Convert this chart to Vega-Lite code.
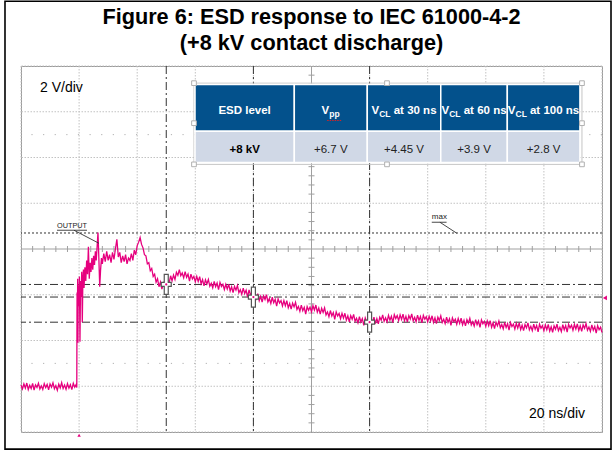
{
"$schema":"https://vega.github.io/schema/vega-lite/v6.json",
"width":581,"height":366,
"autosize":{"type":"none"},
"padding":{"left":21,"top":66,"right":13,"bottom":18},
"background":"white",
"title":{"text":["Figure 6: ESD response to IEC 61000-4-2","(+8 kV contact discharge)"],"font":"Liberation Sans","fontSize":21.7,"fontWeight":"bold","color":"#000000","anchor":"middle","lineHeight":26.5,"offset":-54.5},
"config":{"view":{"stroke":"#9a9a9a","strokeWidth":1},"text":{"font":"Liberation Sans"}},
"layer":[
{"data":{"values":[{"t":-20},{"t":0},{"t":20},{"t":40},{"t":60},{"t":100},{"t":120},{"t":140},{"t":160},{"t":180}]},
 "mark":{"type":"rule","color":"#c2c2c2","strokeDash":[1.5,1.5],"strokeWidth":1},
 "encoding":{"x":{"field":"t","type":"quantitative","scale":{"domain":[-20,180],"nice":false,"zero":false},"axis":null}}},
{"data":{"values":[{"v":-2},{"v":0},{"v":2},{"v":4},{"v":8},{"v":10},{"v":12},{"v":14}]},
 "mark":{"type":"rule","color":"#c2c2c2","strokeDash":[1.5,1.5],"strokeWidth":1},
 "encoding":{"y":{"field":"v","type":"quantitative","scale":{"domain":[-2,14],"nice":false,"zero":false},"axis":null}}},
{"data":{"values":[{"v":1},{"v":11}]},
 "mark":{"type":"rule","color":"#b0b0b0","strokeDash":[1.2,10.42],"strokeWidth":1},
 "encoding":{"y":{"field":"v","type":"quantitative","scale":{"domain":[-2,14],"nice":false,"zero":false},"axis":null}}},
{"data":{"values":[{"t":80}]},
 "mark":{"type":"rule","color":"#a0a0a0","strokeWidth":1},
 "encoding":{"x":{"field":"t","type":"quantitative","scale":{"domain":[-20,180],"nice":false,"zero":false},"axis":null}}},
{"data":{"values":[{"v":6}]},
 "mark":{"type":"rule","color":"#a0a0a0","strokeWidth":1},
 "encoding":{"y":{"field":"v","type":"quantitative","scale":{"domain":[-2,14],"nice":false,"zero":false},"axis":null}}},
{"data":{"values":[{"t":-16},{"t":-12},{"t":-8},{"t":-4},{"t":4},{"t":8},{"t":12},{"t":16},{"t":24},{"t":28},{"t":32},{"t":36},{"t":44},{"t":48},{"t":52},{"t":56},{"t":64},{"t":68},{"t":72},{"t":76},{"t":84},{"t":88},{"t":92},{"t":96},{"t":104},{"t":108},{"t":112},{"t":116},{"t":124},{"t":128},{"t":132},{"t":136},{"t":144},{"t":148},{"t":152},{"t":156},{"t":164},{"t":168},{"t":172},{"t":176}]},
 "mark":{"type":"tick","orient":"vertical","size":6,"thickness":1,"color":"#a0a0a0","opacity":1},
 "encoding":{"x":{"field":"t","type":"quantitative","scale":{"domain":[-20,180],"nice":false,"zero":false},"axis":null},
  "y":{"datum":6,"type":"quantitative","scale":{"domain":[-2,14],"nice":false,"zero":false},"axis":null}}},
{"data":{"values":[{"v":-1.6},{"v":-1.2},{"v":-0.8},{"v":-0.4},{"v":0.4},{"v":0.8},{"v":1.2},{"v":1.6},{"v":2.4},{"v":2.8},{"v":3.2},{"v":3.6},{"v":4.4},{"v":4.8},{"v":5.2},{"v":5.6},{"v":6.4},{"v":6.8},{"v":7.2},{"v":7.6},{"v":8.4},{"v":8.8},{"v":9.2},{"v":9.6},{"v":10.4},{"v":10.8},{"v":11.2},{"v":11.6},{"v":12.4},{"v":12.8},{"v":13.2},{"v":13.6}]},
 "mark":{"type":"tick","orient":"horizontal","size":6,"thickness":1,"color":"#a0a0a0","opacity":1},
 "encoding":{"y":{"field":"v","type":"quantitative","scale":{"domain":[-2,14],"nice":false,"zero":false},"axis":null},
  "x":{"datum":80,"type":"quantitative","scale":{"domain":[-20,180],"nice":false,"zero":false},"axis":null}}},
{"data":{"values":[{"v":6.7}]},
 "mark":{"type":"rule","color":"#333333","strokeDash":[2,2],"strokeWidth":1},
 "encoding":{"y":{"field":"v","type":"quantitative","scale":{"domain":[-2,14],"nice":false,"zero":false},"axis":null}}},
{"data":{"values":[{"t":30},{"t":60},{"t":100}]},
 "mark":{"type":"rule","color":"#333333","strokeDash":[8,3,2,3],"strokeWidth":1},
 "encoding":{"x":{"field":"t","type":"quantitative","scale":{"domain":[-20,180],"nice":false,"zero":false},"axis":null}}},
{"data":{"values":[{"v":4.45},{"v":3.9},{"v":2.8}]},
 "mark":{"type":"rule","color":"#333333","strokeDash":[8,3,2,3],"strokeWidth":1},
 "encoding":{"y":{"field":"v","type":"quantitative","scale":{"domain":[-2,14],"nice":false,"zero":false},"axis":null}}},
{"data":{"values":[
{"t":-20,"v":0.05},{"t":-19.5,"v":-0.12},{"t":-19,"v":0.1},{"t":-18.5,"v":-0.08},{"t":-18,"v":0.14},{"t":-17.5,"v":-0.15},{"t":-17,"v":0.04},{"t":-16.5,"v":-0.1},{"t":-16,"v":0.12},{"t":-15.5,"v":-0.17},{"t":-15,"v":0.06},{"t":-14.5,"v":-0.05},{"t":-14,"v":0.13},{"t":-13.5,"v":-0.12},{"t":-13,"v":0.02},{"t":-12.5,"v":-0.14},{"t":-12,"v":0.11},{"t":-11.5,"v":-0.06},{"t":-11,"v":0.08},{"t":-10.5,"v":-0.16},{"t":-10,"v":0.1},{"t":-9.5,"v":-0.04},{"t":-9,"v":0.15},{"t":-8.5,"v":-0.11},{"t":-8,"v":0.03},{"t":-7.5,"v":-0.18},{"t":-7,"v":0.09},{"t":-6.5,"v":-0.07},{"t":-6,"v":0.16},{"t":-5.5,"v":-0.1},{"t":-5,"v":0.05},{"t":-4.5,"v":-0.13},{"t":-4,"v":0.12},{"t":-3.5,"v":-0.08},{"t":-3,"v":0.07},{"t":-2.5,"v":-0.15},{"t":-2,"v":0.13},{"t":-1.5,"v":-0.04},{"t":-1,"v":0.08},{"t":-0.8,"v":-0.06},
{"t":-0.7,"v":4.1},{"t":-0.6,"v":2.2},{"t":-0.5,"v":4.7},{"t":-0.4,"v":1.9},{"t":-0.3,"v":4.4},{"t":-0.1,"v":3.5},{"t":0.1,"v":4.8},{"t":0.3,"v":1.95},{"t":0.5,"v":4.6},{"t":0.7,"v":3.9},{"t":0.9,"v":5.0},{"t":1.1,"v":2.8},{"t":1.3,"v":4.7},{"t":1.5,"v":5.1},{"t":1.7,"v":4.3},{"t":2.0,"v":5.2},{"t":2.3,"v":4.6},{"t":2.6,"v":5.5},{"t":2.9,"v":4.9},{"t":3.2,"v":6.1},{"t":3.5,"v":4.7},{"t":3.8,"v":5.4},{"t":4.1,"v":5.0},{"t":4.4,"v":5.6},{"t":4.7,"v":5.1},{"t":5.0,"v":5.7},{"t":5.3,"v":5.3},{"t":5.6,"v":5.9},{"t":5.9,"v":5.5},{"t":6.2,"v":6.1},{"t":6.5,"v":6.72},{"t":6.8,"v":5.6},{"t":7.1,"v":4.35},{"t":7.4,"v":5.1},{"t":7.7,"v":5.6},{"t":8.0,"v":5.35},{"t":8.5,"v":5.8},{"t":9.0,"v":5.45},{"t":9.5,"v":5.9},{"t":10,"v":5.5},{"t":10.5,"v":5.75},{"t":11,"v":5.4},{"t":11.5,"v":5.85},{"t":12,"v":5.55},{"t":12.5,"v":6.0},{"t":13,"v":6.42},{"t":13.5,"v":5.65},{"t":14,"v":5.85},{"t":14.5,"v":5.4},{"t":15,"v":5.7},{"t":15.5,"v":5.45},{"t":16,"v":5.75},{"t":16.5,"v":5.35},{"t":17,"v":5.6},{"t":17.5,"v":5.5},{"t":18,"v":5.8},{"t":18.5,"v":5.5},{"t":19,"v":5.95},{"t":19.5,"v":5.75},{"t":20,"v":6.15},{"t":20.5,"v":6.3},{"t":21,"v":6.5},{"t":21.5,"v":6.2},{"t":22,"v":6.05},{"t":22.5,"v":5.75},{"t":23,"v":5.7},{"t":23.5,"v":5.35},{"t":24,"v":5.4},{"t":24.5,"v":5.05},{"t":25,"v":5.15},{"t":25.5,"v":4.8},{"t":26,"v":4.9},{"t":26.5,"v":4.55},{"t":27,"v":4.7},{"t":27.5,"v":4.35},{"t":28,"v":4.55},{"t":28.5,"v":4.25},{"t":29,"v":4.5},{"t":29.5,"v":4.3},{"t":30,"v":4.55},
{"t":30.5,"v":4.64},{"t":31,"v":4.52},{"t":31.5,"v":4.83},{"t":32,"v":4.61},{"t":32.5,"v":4.86},{"t":33,"v":4.67},{"t":33.5,"v":4.98},{"t":34,"v":4.85},{"t":34.5,"v":5.1},{"t":35,"v":4.83},{"t":35.5,"v":4.95},{"t":36,"v":4.74},{"t":36.5,"v":5.01},{"t":37,"v":4.76},{"t":37.5,"v":4.9},{"t":38,"v":4.6},{"t":38.5,"v":4.9},{"t":39,"v":4.69},{"t":39.5,"v":4.8},{"t":40,"v":4.57},
{"t":40.5,"v":4.8},{"t":41,"v":4.58},{"t":41.5,"v":4.79},{"t":42,"v":4.48},{"t":42.5,"v":4.66},{"t":43,"v":4.39},{"t":43.5,"v":4.65},{"t":44,"v":4.47},{"t":44.5,"v":4.67},{"t":45,"v":4.37},{"t":45.5,"v":4.5},{"t":46,"v":4.3},{"t":46.5,"v":4.58},{"t":47,"v":4.35},{"t":47.5,"v":4.51},{"t":48,"v":4.22},{"t":48.5,"v":4.54},{"t":49,"v":4.36},{"t":49.5,"v":4.46},{"t":50,"v":4.23},
{"t":50.5,"v":4.46},{"t":51,"v":4.25},{"t":51.5,"v":4.46},{"t":52,"v":4.16},{"t":52.5,"v":4.35},{"t":53,"v":4.09},{"t":53.5,"v":4.36},{"t":54,"v":4.2},{"t":54.5,"v":4.4},{"t":55,"v":4.09},{"t":55.5,"v":4.22},{"t":56,"v":4.02},{"t":56.5,"v":4.29},{"t":57,"v":4.05},{"t":57.5,"v":4.2},{"t":58,"v":3.9},{"t":58.5,"v":4.21},{"t":59,"v":4.0},{"t":59.5,"v":4.08},{"t":60,"v":3.81},
{"t":60.5,"v":4.05},{"t":61,"v":3.84},{"t":61.5,"v":4.05},{"t":62,"v":3.74},{"t":62.5,"v":3.93},{"t":63,"v":3.68},{"t":63.5,"v":3.95},{"t":64,"v":3.79},{"t":64.5,"v":4.0},{"t":65,"v":3.69},{"t":65.5,"v":3.83},{"t":66,"v":3.62},{"t":66.5,"v":3.89},{"t":67,"v":3.65},{"t":67.5,"v":3.8},{"t":68,"v":3.5},{"t":68.5,"v":3.82},{"t":69,"v":3.64},{"t":69.5,"v":3.74},{"t":70,"v":3.51},
{"t":70.5,"v":3.74},{"t":71,"v":3.52},{"t":71.5,"v":3.74},{"t":72,"v":3.43},{"t":72.5,"v":3.62},{"t":73,"v":3.37},{"t":73.5,"v":3.63},{"t":74,"v":3.47},{"t":74.5,"v":3.67},{"t":75,"v":3.36},{"t":75.5,"v":3.49},{"t":76,"v":3.28},{"t":76.5,"v":3.55},{"t":77,"v":3.3},{"t":77.5,"v":3.45},{"t":78,"v":3.15},{"t":78.5,"v":3.48},{"t":79,"v":3.32},{"t":79.5,"v":3.46},{"t":80,"v":3.25},
{"t":80.5,"v":3.52},{"t":81,"v":3.33},{"t":81.5,"v":3.55},{"t":82,"v":3.24},{"t":82.5,"v":3.42},{"t":83,"v":3.15},{"t":83.5,"v":3.41},{"t":84,"v":3.23},{"t":84.5,"v":3.43},{"t":85,"v":3.12},{"t":85.5,"v":3.25},{"t":86,"v":3.04},{"t":86.5,"v":3.31},{"t":87,"v":3.07},{"t":87.5,"v":3.22},{"t":88,"v":2.92},{"t":88.5,"v":3.25},{"t":89,"v":3.07},{"t":89.5,"v":3.18},{"t":90,"v":2.95},
{"t":90.5,"v":3.19},{"t":91,"v":2.98},{"t":91.5,"v":3.19},{"t":92,"v":2.89},{"t":92.5,"v":3.08},{"t":93,"v":2.82},{"t":93.5,"v":3.09},{"t":94,"v":2.93},{"t":94.5,"v":3.14},{"t":95,"v":2.84},{"t":95.5,"v":2.97},{"t":96,"v":2.77},{"t":96.5,"v":3.04},{"t":97,"v":2.81},{"t":97.5,"v":2.96},{"t":98,"v":2.66},{"t":98.5,"v":2.99},{"t":99,"v":2.81},{"t":99.5,"v":2.92},{"t":100,"v":2.69},
{"t":100.5,"v":2.96},{"t":101,"v":2.77},{"t":101.5,"v":3.02},{"t":102,"v":2.74},{"t":102.5,"v":2.96},{"t":103,"v":2.73},{"t":103.5,"v":3.02},{"t":104,"v":2.89},{"t":104.5,"v":3.12},{"t":105,"v":2.84},{"t":105.5,"v":2.99},{"t":106,"v":2.81},{"t":106.5,"v":3.1},{"t":107,"v":2.89},{"t":107.5,"v":3.06},{"t":108,"v":2.78},{"t":108.5,"v":3.13},{"t":109,"v":2.96},{"t":109.5,"v":3.09},{"t":110,"v":2.87},
{"t":110.5,"v":3.12},{"t":111,"v":2.92},{"t":111.5,"v":3.15},{"t":112,"v":2.86},{"t":112.5,"v":3.06},{"t":113,"v":2.81},{"t":113.5,"v":3.09},{"t":114,"v":2.94},{"t":114.5,"v":3.16},{"t":115,"v":2.86},{"t":115.5,"v":3.01},{"t":116,"v":2.82},{"t":116.5,"v":3.11},{"t":117,"v":2.88},{"t":117.5,"v":3.05},{"t":118,"v":2.77},{"t":118.5,"v":3.1},{"t":119,"v":2.93},{"t":119.5,"v":3.04},{"t":120,"v":2.82},
{"t":120.5,"v":3.06},{"t":121,"v":2.86},{"t":121.5,"v":3.08},{"t":122,"v":2.79},{"t":122.5,"v":2.99},{"t":123,"v":2.74},{"t":123.5,"v":3.02},{"t":124,"v":2.87},{"t":124.5,"v":3.08},{"t":125,"v":2.79},{"t":125.5,"v":2.93},{"t":126,"v":2.74},{"t":126.5,"v":3.02},{"t":127,"v":2.79},{"t":127.5,"v":2.95},{"t":128,"v":2.66},{"t":128.5,"v":2.99},{"t":129,"v":2.82},{"t":129.5,"v":2.93},{"t":130,"v":2.71},
{"t":130.5,"v":2.96},{"t":131,"v":2.75},{"t":131.5,"v":2.98},{"t":132,"v":2.69},{"t":132.5,"v":2.88},{"t":133,"v":2.64},{"t":133.5,"v":2.91},{"t":134,"v":2.76},{"t":134.5,"v":2.97},{"t":135,"v":2.68},{"t":135.5,"v":2.82},{"t":136,"v":2.63},{"t":136.5,"v":2.91},{"t":137,"v":2.69},{"t":137.5,"v":2.85},{"t":138,"v":2.57},{"t":138.5,"v":2.9},{"t":139,"v":2.73},{"t":139.5,"v":2.84},{"t":140,"v":2.62},
{"t":140.5,"v":2.86},{"t":141,"v":2.65},{"t":141.5,"v":2.87},{"t":142,"v":2.58},{"t":142.5,"v":2.77},{"t":143,"v":2.52},{"t":143.5,"v":2.8},{"t":144,"v":2.64},{"t":144.5,"v":2.85},{"t":145,"v":2.56},{"t":145.5,"v":2.7},{"t":146,"v":2.51},{"t":146.5,"v":2.79},{"t":147,"v":2.57},{"t":147.5,"v":2.73},{"t":148,"v":2.45},{"t":148.5,"v":2.78},{"t":149,"v":2.61},{"t":149.5,"v":2.72},{"t":150,"v":2.5},
{"t":150.5,"v":2.75},{"t":151,"v":2.54},{"t":151.5,"v":2.77},{"t":152,"v":2.48},{"t":152.5,"v":2.67},{"t":153,"v":2.43},{"t":153.5,"v":2.7},{"t":154,"v":2.55},{"t":154.5,"v":2.77},{"t":155,"v":2.47},{"t":155.5,"v":2.62},{"t":156,"v":2.43},{"t":156.5,"v":2.71},{"t":157,"v":2.49},{"t":157.5,"v":2.66},{"t":158,"v":2.38},{"t":158.5,"v":2.71},{"t":159,"v":2.54},{"t":159.5,"v":2.65},{"t":160,"v":2.43},
{"t":160.5,"v":2.68},{"t":161,"v":2.47},{"t":161.5,"v":2.7},{"t":162,"v":2.41},{"t":162.5,"v":2.6},{"t":163,"v":2.36},{"t":163.5,"v":2.64},{"t":164,"v":2.49},{"t":164.5,"v":2.71},{"t":165,"v":2.43},{"t":165.5,"v":2.58},{"t":166,"v":2.39},{"t":166.5,"v":2.69},{"t":167,"v":2.47},{"t":167.5,"v":2.65},{"t":168,"v":2.37},{"t":168.5,"v":2.71},{"t":169,"v":2.55},{"t":169.5,"v":2.67},{"t":170,"v":2.45},
{"t":170.5,"v":2.7},{"t":171,"v":2.5},{"t":171.5,"v":2.73},{"t":172,"v":2.44},{"t":172.5,"v":2.64},{"t":173,"v":2.4},{"t":173.5,"v":2.68},{"t":174,"v":2.53},{"t":174.5,"v":2.74},{"t":175,"v":2.45},{"t":175.5,"v":2.59},{"t":176,"v":2.4},{"t":176.5,"v":2.68},{"t":177,"v":2.45},{"t":177.5,"v":2.61},{"t":178,"v":2.32},{"t":178.5,"v":2.65},{"t":179,"v":2.47},{"t":179.5,"v":2.58},{"t":180,"v":2.35}
]},
 "mark":{"type":"line","color":"#e6007e","strokeWidth":1.3},
 "encoding":{"x":{"field":"t","type":"quantitative","scale":{"domain":[-20,180],"nice":false,"zero":false},"axis":null},
  "y":{"field":"v","type":"quantitative","scale":{"domain":[-2,14],"nice":false,"zero":false},"axis":null}}},
{"data":{"values":[{"t":30,"v":4.45},{"t":60,"v":3.9},{"t":100,"v":2.8}]},
 "mark":{"type":"point","shape":"M-0.2,-1L0.2,-1L0.2,-0.2L0.5,-0.2L0.5,0.2L0.2,0.2L0.2,1L-0.2,1L-0.2,0.2L-0.5,0.2L-0.5,-0.2L-0.2,-0.2Z","size":400,"filled":true,"fill":"#ffffff","stroke":"#555555","strokeWidth":1.2,"opacity":1},
 "encoding":{"x":{"field":"t","type":"quantitative","scale":{"domain":[-20,180],"nice":false,"zero":false},"axis":null},
  "y":{"field":"v","type":"quantitative","scale":{"domain":[-2,14],"nice":false,"zero":false},"axis":null}}},
{"data":{"values":[{"t":30,"v":4.45},{"t":60,"v":3.9},{"t":100,"v":2.8}]},
 "mark":{"type":"point","shape":"circle","size":5,"filled":true,"color":"#e6007e","opacity":1},
 "encoding":{"x":{"field":"t","type":"quantitative","scale":{"domain":[-20,180],"nice":false,"zero":false},"axis":null},
  "y":{"field":"v","type":"quantitative","scale":{"domain":[-2,14],"nice":false,"zero":false},"axis":null}}},
{"data":{"values":[{"t":39.55,"t2":173.1,"v":9.7,"v2":13.25}]},
 "mark":{"type":"rect","fill":"transparent","stroke":"#c4c4c4","strokeWidth":1},
 "encoding":{"x":{"field":"t","type":"quantitative","scale":{"domain":[-20,180],"nice":false,"zero":false},"axis":null},"x2":{"field":"t2"},
  "y":{"field":"v","type":"quantitative","scale":{"domain":[-2,14],"nice":false,"zero":false},"axis":null},"y2":{"field":"v2"}}},
{"data":{"values":[{"t":39.9,"t2":74.08,"v":11.15,"v2":13.19},{"t":74.08,"t2":99.2,"v":11.15,"v2":13.19},{"t":99.2,"t2":124.5,"v":11.15,"v2":13.19},{"t":124.5,"t2":147.4,"v":11.15,"v2":13.19},{"t":147.4,"t2":172.4,"v":11.15,"v2":13.19}]},
 "mark":{"type":"rect","fill":"#03518c","stroke":"#ffffff","strokeWidth":1.5},
 "encoding":{"x":{"field":"t","type":"quantitative","scale":{"domain":[-20,180],"nice":false,"zero":false},"axis":null},"x2":{"field":"t2"},
  "y":{"field":"v","type":"quantitative","scale":{"domain":[-2,14],"nice":false,"zero":false},"axis":null},"y2":{"field":"v2"}}},
{"data":{"values":[{"t":39.9,"t2":74.08,"v":9.78,"v2":11.15},{"t":74.08,"t2":99.2,"v":9.78,"v2":11.15},{"t":99.2,"t2":124.5,"v":9.78,"v2":11.15},{"t":124.5,"t2":147.4,"v":9.78,"v2":11.15},{"t":147.4,"t2":172.4,"v":9.78,"v2":11.15}]},
 "mark":{"type":"rect","fill":"#d0d8e6","stroke":"#ffffff","strokeWidth":1.5},
 "encoding":{"x":{"field":"t","type":"quantitative","scale":{"domain":[-20,180],"nice":false,"zero":false},"axis":null},"x2":{"field":"t2"},
  "y":{"field":"v","type":"quantitative","scale":{"domain":[-2,14],"nice":false,"zero":false},"axis":null},"y2":{"field":"v2"}}},
{"data":{"values":[{"t":39.55,"v":13.25},{"t":105.99,"v":13.25},{"t":173.1,"v":13.25},{"t":39.55,"v":11.5},{"t":173.1,"v":11.5},{"t":39.55,"v":9.7},{"t":105.99,"v":9.7},{"t":173.1,"v":9.7}]},
 "mark":{"type":"point","shape":"square","size":22,"filled":true,"fill":"#ffffff","stroke":"#b0b0b0","strokeWidth":1,"opacity":1},
 "encoding":{"x":{"field":"t","type":"quantitative","scale":{"domain":[-20,180],"nice":false,"zero":false},"axis":null},
  "y":{"field":"v","type":"quantitative","scale":{"domain":[-2,14],"nice":false,"zero":false},"axis":null}}},
{"data":{"values":[{"t":47.95,"v":11.92,"txt":"ESD level"},{"t":83.44,"v":11.92,"txt":"V"},{"t":100.65,"v":11.92,"txt":"V"},{"t":108.3,"v":11.92,"txt":"at 30 ns"},{"t":124.75,"v":11.92,"txt":"V"},{"t":132.4,"v":11.92,"txt":"at 60 ns"},{"t":147.58,"v":11.92,"txt":"V"},{"t":155.2,"v":11.92,"txt":"at 100 ns"}]},
 "mark":{"type":"text","align":"left","baseline":"alphabetic","fontSize":11.5,"fontWeight":"bold","color":"#ffffff"},
 "encoding":{"x":{"field":"t","type":"quantitative","scale":{"domain":[-20,180],"nice":false,"zero":false},"axis":null},
  "y":{"field":"v","type":"quantitative","scale":{"domain":[-2,14],"nice":false,"zero":false},"axis":null},"text":{"field":"txt"}}},
{"data":{"values":[{"t":86.1,"v":11.78,"txt":"pp"},{"t":103.3,"v":11.78,"txt":"CL"},{"t":127.4,"v":11.78,"txt":"CL"},{"t":150.22,"v":11.78,"txt":"CL"}]},
 "mark":{"type":"text","align":"left","baseline":"alphabetic","fontSize":8.5,"fontWeight":"bold","color":"#ffffff"},
 "encoding":{"x":{"field":"t","type":"quantitative","scale":{"domain":[-20,180],"nice":false,"zero":false},"axis":null},
  "y":{"field":"v","type":"quantitative","scale":{"domain":[-2,14],"nice":false,"zero":false},"axis":null},"text":{"field":"txt"}}},
{"data":{"values":[{"t":85.4,"t2":90.5,"v":11.62}]},
 "mark":{"type":"rule","color":"#e02020","strokeWidth":1,"strokeDash":[1.5,1]},
 "encoding":{"x":{"field":"t","type":"quantitative","scale":{"domain":[-20,180],"nice":false,"zero":false},"axis":null},"x2":{"field":"t2"},
  "y":{"field":"v","type":"quantitative","scale":{"domain":[-2,14],"nice":false,"zero":false},"axis":null}}},
{"data":{"values":[{"t":56.99,"v":10.2,"txt":"+8 kV"}]},
 "mark":{"type":"text","align":"center","baseline":"alphabetic","fontSize":11.5,"fontWeight":"bold","color":"#000000"},
 "encoding":{"x":{"field":"t","type":"quantitative","scale":{"domain":[-20,180],"nice":false,"zero":false},"axis":null},
  "y":{"field":"v","type":"quantitative","scale":{"domain":[-2,14],"nice":false,"zero":false},"axis":null},"text":{"field":"txt"}}},
{"data":{"values":[{"t":86.64,"v":10.2,"txt":"+6.7 V"},{"t":111.85,"v":10.2,"txt":"+4.45 V"},{"t":135.95,"v":10.2,"txt":"+3.9 V"},{"t":159.9,"v":10.2,"txt":"+2.8 V"}]},
 "mark":{"type":"text","align":"center","baseline":"alphabetic","fontSize":11.5,"color":"#222222"},
 "encoding":{"x":{"field":"t","type":"quantitative","scale":{"domain":[-20,180],"nice":false,"zero":false},"axis":null},
  "y":{"field":"v","type":"quantitative","scale":{"domain":[-2,14],"nice":false,"zero":false},"axis":null},"text":{"field":"txt"}}},
{"data":{"values":[{"t":-7.61,"t2":2.72,"v":6.82,"v2":6.82},{"t":-1.76,"t2":6.85,"v":6.82,"v2":6.25},{"t":121.4,"t2":126.5,"v":7.17,"v2":7.17},{"t":124.2,"t2":130.0,"v":7.17,"v2":6.69}]},
 "mark":{"type":"rule","color":"#333333","strokeWidth":0.9},
 "encoding":{"x":{"field":"t","type":"quantitative","scale":{"domain":[-20,180],"nice":false,"zero":false},"axis":null},"x2":{"field":"t2"},
  "y":{"field":"v","type":"quantitative","scale":{"domain":[-2,14],"nice":false,"zero":false},"axis":null},"y2":{"field":"v2"}}},
{"data":{"values":[{"t":-7.61,"v":6.91,"txt":"OUTPUT"}]},
 "mark":{"type":"text","align":"left","baseline":"alphabetic","fontSize":7.3,"color":"#222222"},
 "encoding":{"x":{"field":"t","type":"quantitative","scale":{"domain":[-20,180],"nice":false,"zero":false},"axis":null},
  "y":{"field":"v","type":"quantitative","scale":{"domain":[-2,14],"nice":false,"zero":false},"axis":null},"text":{"field":"txt"}}},
{"data":{"values":[{"t":121.4,"v":7.3,"txt":"max"}]},
 "mark":{"type":"text","align":"left","baseline":"alphabetic","fontSize":8,"color":"#222222"},
 "encoding":{"x":{"field":"t","type":"quantitative","scale":{"domain":[-20,180],"nice":false,"zero":false},"axis":null},
  "y":{"field":"v","type":"quantitative","scale":{"domain":[-2,14],"nice":false,"zero":false},"axis":null},"text":{"field":"txt"}}},
{"data":{"values":[{"t":-13.46,"v":12.85,"txt":"2 V/div"},{"t":154.9,"v":-1.4,"txt":"20 ns/div"}]},
 "mark":{"type":"text","align":"left","baseline":"alphabetic","fontSize":14,"color":"#000000"},
 "encoding":{"x":{"field":"t","type":"quantitative","scale":{"domain":[-20,180],"nice":false,"zero":false},"axis":null},
  "y":{"field":"v","type":"quantitative","scale":{"domain":[-2,14],"nice":false,"zero":false},"axis":null},"text":{"field":"txt"}}},
{"data":{"values":[{"t":181.0,"v":3.86}]},
 "mark":{"type":"point","shape":"triangle-left","size":22,"filled":true,"color":"#e6007e","opacity":1},
 "encoding":{"x":{"field":"t","type":"quantitative","scale":{"domain":[-20,180],"nice":false,"zero":false},"axis":null},
  "y":{"field":"v","type":"quantitative","scale":{"domain":[-2,14],"nice":false,"zero":false},"axis":null}}},
{"data":{"values":[{"t":0,"v":-2.14}]},
 "mark":{"type":"point","shape":"triangle-up","size":12,"filled":true,"color":"#e6007e","opacity":1},
 "encoding":{"x":{"field":"t","type":"quantitative","scale":{"domain":[-20,180],"nice":false,"zero":false},"axis":null},
  "y":{"field":"v","type":"quantitative","scale":{"domain":[-2,14],"nice":false,"zero":false},"axis":null}}},
{"data":{"values":[{"t":-25.51,"t2":183.1,"v":-2.75,"v2":16.83}]},
 "mark":{"type":"rect","fill":"transparent","stroke":"#000000","strokeWidth":1.6},
 "encoding":{"x":{"field":"t","type":"quantitative","scale":{"domain":[-20,180],"nice":false,"zero":false},"axis":null},"x2":{"field":"t2"},
  "y":{"field":"v","type":"quantitative","scale":{"domain":[-2,14],"nice":false,"zero":false},"axis":null},"y2":{"field":"v2"}}}
]
}
